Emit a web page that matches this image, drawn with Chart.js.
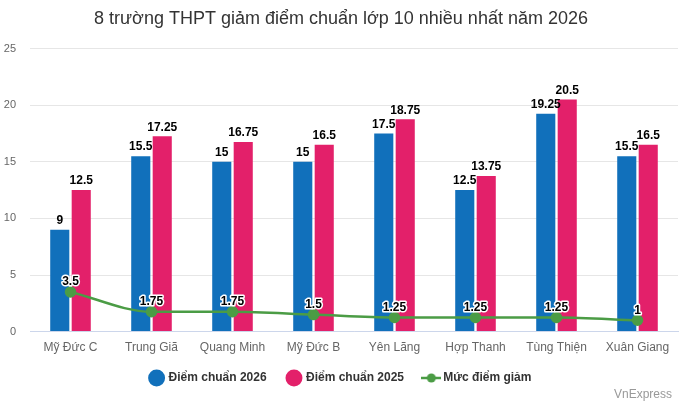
<!DOCTYPE html>
<html>
<head>
<meta charset="utf-8">
<script src="https://cdn.jsdelivr.net/npm/chart.js@4.4.1/dist/chart.umd.min.js"></script>
<style>
  html, body { margin: 0; padding: 0; background: #fff; }
  #wrap { width: 685px; height: 407px; position: relative; }
</style>
</head>
<body>
<div id="wrap"><canvas id="c"></canvas></div>
<script>
const schools = ['Mỹ Đức C', 'Trung Giã', 'Quang Minh', 'Mỹ Đức B', 'Yên Lãng', 'Hợp Thanh', 'Tùng Thiện', 'Xuân Giang'];
const score2026 = [9, 15.5, 15, 15, 17.5, 12.5, 19.25, 15.5];
const score2025 = [12.5, 17.25, 16.75, 16.5, 18.75, 13.75, 20.5, 16.5];
const drop = [3.5, 1.75, 1.75, 1.5, 1.25, 1.25, 1.25, 1];
const yTicks = [0, 5, 10, 15, 20, 25];

const BLUE = '#1170bb';
const PINK = '#e3206a';
const GREEN = '#4b9c45';

// legend marker for the line series: short line with a dot
const lineMarker = document.createElement('canvas');
lineMarker.width = 20; lineMarker.height = 10;
(function () {
  const g = lineMarker.getContext('2d');
  g.strokeStyle = GREEN; g.lineWidth = 2.5;
  g.beginPath(); g.moveTo(0, 5); g.lineTo(20, 5); g.stroke();
  g.fillStyle = GREEN;
  g.beginPath(); g.arc(10, 5, 4.5, 0, Math.PI * 2); g.fill();
})();

const valueLabels = {
  id: 'valueLabels',
  afterDatasetsDraw(chart) {
    const ctx = chart.ctx;
    ctx.save();
    ctx.font = 'bold 12px "Liberation Sans", Arial, sans-serif';
    ctx.textAlign = 'center';
    ctx.textBaseline = 'bottom';
    ctx.lineJoin = 'round';
    chart.data.datasets.forEach((ds, i) => {
      const meta = chart.getDatasetMeta(i);
      meta.data.forEach((el, j) => {
        const txt = String(ds.data[j]);
        const y = ds.type === 'line' ? el.y - 4 : el.y - 3;
        if (ds.type === 'line') {
          ctx.strokeStyle = '#fff'; ctx.lineWidth = 3;
          ctx.strokeText(txt, el.x, y);
        }
        ctx.fillStyle = '#000';
        ctx.fillText(txt, el.x, y);
      });
    });
    ctx.restore();
  }
};

const credit = {
  id: 'credit',
  afterDraw(chart) {
    const ctx = chart.ctx;
    ctx.save();
    ctx.font = '12px "Liberation Sans", Arial, sans-serif';
    ctx.fillStyle = '#999';
    ctx.textAlign = 'right';
    ctx.textBaseline = 'middle';
    ctx.fillText('VnExpress', 672, 395);
    ctx.restore();
  }
};

Chart.defaults.font.family = '"Liberation Sans", Arial, sans-serif';

new Chart(document.getElementById('c'), {
  data: {
    labels: schools,
    datasets: [
      { type: 'bar', label: 'Điểm chuẩn 2026', data: score2026, backgroundColor: BLUE, order: 1,
        categoryPercentage: 0.53, barPercentage: 0.89 },
      { type: 'bar', label: 'Điểm chuẩn 2025', data: score2025, backgroundColor: PINK, order: 1,
        categoryPercentage: 0.53, barPercentage: 0.89 },
      { type: 'line', label: 'Mức điểm giảm', data: drop, borderColor: GREEN, backgroundColor: GREEN,
        borderWidth: 2.5, pointRadius: 4.5, pointHoverRadius: 4.5, cubicInterpolationMode: 'monotone',
        order: -1, pointStyle: 'circle' }
    ]
  },
  options: {
    responsive: true,
    maintainAspectRatio: false,
    animation: false,
    layout: { padding: { left: 0, right: 3, top: 0, bottom: 13 } },
    plugins: {
      title: {
        display: true,
        text: '8 trường THPT giảm điểm chuẩn lớp 10 nhiều nhất năm 2026',
        color: '#333',
        font: { size: 18, weight: 'normal' },
        padding: { top: 8, bottom: 19 }
      },
      legend: {
        position: 'bottom',
        labels: {
          usePointStyle: true,
          boxHeight: 13,
          padding: 8,
          color: '#333',
          font: { size: 12, weight: 'bold' },
          sort: (a, b) => a.datasetIndex - b.datasetIndex,
          generateLabels(chart) {
            const items = Chart.defaults.plugins.legend.labels.generateLabels(chart);
            items.forEach(it => {
              const ds = chart.data.datasets[it.datasetIndex];
              it.pointStyle = ds.type === 'line' ? lineMarker : 'circle';
              it.lineWidth = 0;
              // a little extra room between legend items
              if (ds.type !== 'line') it.text = it.text + '\u00a0\u00a0\u00a0\u00a0';
            });
            return items;
          }
        }
      },
      tooltip: { enabled: false }
    },
    scales: {
      x: {
        grid: { display: false, drawTicks: false },
        border: { color: '#ccd6eb' },
        ticks: { color: '#666', font: { size: 12 }, padding: 9, maxRotation: 0 }
      },
      y: {
        min: 0, max: 25,
        afterBuildTicks: s => { s.ticks = yTicks.map(v => ({ value: v })); },
        afterFit: s => { s.width = 30; },
        grid: { color: '#e6e6e6', drawTicks: false },
        border: { display: false },
        ticks: { color: '#666', font: { size: 11 }, padding: 14 }
      }
    }
  },
  plugins: [valueLabels, credit]
});
</script>
</body>
</html>
